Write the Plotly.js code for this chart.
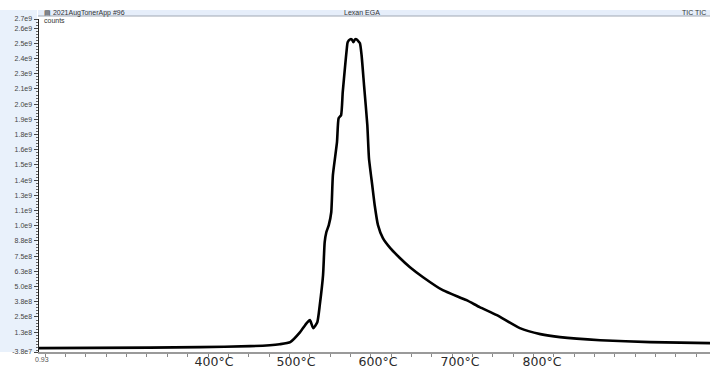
<!DOCTYPE html>
<html>
<head>
<meta charset="utf-8">
<script src="https://cdn.plot.ly/plotly-3.0.1.min.js"></script>
<style>html,body{margin:0;padding:0;background:#fff;}#chart{width:710px;height:369px;}</style>
</head>
<body>
<div id="chart"></div>
<script>
// Temperature (°C) and TIC counts
const temperatureC = [186.6, 322, 383, 444, 468, 480, 493, 505, 513, 517, 521, 526, 529, 533, 535, 537, 540, 543, 545, 550, 552, 555, 557, 560, 562, 563, 566, 568, 570, 572, 574, 576, 578, 580, 583, 587, 589, 593, 596, 600, 606, 615, 627, 639, 655, 679, 708, 724, 745, 773, 798, 822, 871, 932, 1005];
const counts = [-6e6, -2e6, 2e6, 1.0e7, 1.8e7, 2.6e7, 4.3e7, 1.25e8, 1.99e8, 2.24e8, 1.58e8, 2.07e8, 3.47e8, 5.94e8, 8.65e8, 9.47e8, 1.005e9, 1.111e9, 1.416e9, 1.687e9, 1.884e9, 1.909e9, 2.098e9, 2.320e9, 2.459e9, 2.509e9, 2.533e9, 2.533e9, 2.509e9, 2.533e9, 2.533e9, 2.517e9, 2.501e9, 2.402e9, 2.155e9, 1.827e9, 1.555e9, 1.333e9, 1.169e9, 1.005e9, 8.98e8, 8.16e8, 7.33e8, 6.59e8, 5.77e8, 4.70e8, 3.88e8, 3.31e8, 2.65e8, 1.58e8, 1.09e8, 8.4e7, 5.9e7, 4.3e7, 3.5e7];

const xTickVals = [400, 500, 600, 700, 800];
const xTickText = ["400°C", "500°C", "600°C", "700°C", "800°C"];
const yTickVals = [-3.8e7, 1.25e8, 2.5e8, 3.75e8, 5.0e8, 6.25e8, 7.5e8, 8.75e8, 1.0e9, 1.125e9, 1.25e9, 1.375e9, 1.5e9, 1.625e9, 1.75e9, 1.875e9, 2.0e9, 2.125e9, 2.25e9, 2.375e9, 2.5e9, 2.625e9, 2.7e9];
const yTickText = ["-3.8e7", "1.3e8", "2.5e8", "3.8e8", "5.0e8", "6.3e8", "7.5e8", "8.8e8", "1.0e9", "1.1e9", "1.3e9", "1.4e9", "1.5e9", "1.6e9", "1.8e9", "1.9e9", "2.0e9", "2.1e9", "2.3e9", "2.4e9", "2.5e9", "2.6e9", "2.7e9"];

const titleLeft = "2021AugTonerApp #96";
const titleCenter = "Lexan EGA";
const titleRight = "TIC TIC";

const trace = {
  x: temperatureC, y: counts, type: 'scatter', mode: 'lines',
  line: {color: '#000', width: 2.6, shape: 'spline', smoothing: 0.5},
  hoverinfo: 'skip'
};

// pixel helpers (plot area: x 39..710, y 19..352)
const W = 710, H = 369, L = 39, T = 19, B = 17;
const pw = W - L, ph = H - T - B;
const px = p => (p - L) / pw;
const py = p => (H - B - p) / ph;

const layout = {
  width: W, height: H,
  margin: {l: L, r: 0, t: T, b: B, pad: 0},
  paper_bgcolor: '#fff', plot_bgcolor: '#fff',
  showlegend: false,
  font: {family: 'Liberation Sans, Arial, sans-serif', color: '#333'},
  xaxis: {
    range: [186.6, 1004.9], showgrid: false, zeroline: false,
    showline: true, linecolor: '#9a9a9a', linewidth: 1.5,
    tickvals: xTickVals, ticktext: xTickText, ticks: '',
    tickfont: {family: 'DejaVu Sans', size: 12.5, color: '#2a2a2a'},
    ticklabelstandoff: -3,
    minor: {ticks: 'outside', ticklen: 3, tickcolor: '#888', tick0: 219.1, dtick: 24.8, showgrid: false}
  },
  yaxis: {
    range: [-3.8e7, 2.7e9], showgrid: false, zeroline: false,
    showline: true, linecolor: '#222', linewidth: 1.5,
    tickvals: yTickVals, ticktext: yTickText,
    ticks: 'outside', ticklen: 4, tickcolor: '#444', tickwidth: 1,
    tickfont: {family: 'Liberation Sans, Arial', size: 7, color: '#444'},
    minor: {ticks: 'outside', ticklen: 2, tickcolor: '#666', dtick: 2.5e7, tick0: 0, showgrid: false}
  },
  shapes: [
    {type: 'rect', xref: 'paper', yref: 'paper', x0: px(0), x1: px(37), y0: py(352), y1: py(10), fillcolor: '#e9f1fb', line: {width: 0}, layer: 'below'},
    {type: 'rect', xref: 'paper', yref: 'paper', x0: px(38), x1: px(710), y0: py(16), y1: py(10), fillcolor: '#e6eefa', line: {width: 0}, layer: 'below'},
    {type: 'line', xref: 'paper', yref: 'paper', x0: px(38), x1: px(710), y0: py(16), y1: py(16), line: {color: '#a0a8b4', width: 1}}
  ],
  annotations: [
    {text: '▤ ' + titleLeft, xref: 'paper', yref: 'paper', x: px(42), y: py(13), xanchor: 'left', yanchor: 'middle', showarrow: false, font: {size: 7, color: '#333'}},
    {text: titleCenter, xref: 'paper', yref: 'paper', x: px(362), y: py(13), xanchor: 'center', yanchor: 'middle', showarrow: false, font: {size: 7, color: '#333'}},
    {text: titleRight, xref: 'paper', yref: 'paper', x: px(708), y: py(13), xanchor: 'right', yanchor: 'middle', showarrow: false, font: {size: 7, color: '#333'}},
    {text: 'counts', xref: 'paper', yref: 'paper', x: px(42), y: py(20), xanchor: 'left', yanchor: 'middle', showarrow: false, font: {size: 7, color: '#333'}},
    {text: '0.93', xref: 'paper', yref: 'paper', x: px(42), y: py(359), xanchor: 'center', yanchor: 'middle', showarrow: false, font: {size: 7, color: '#555'}}
  ]
};

Plotly.newPlot('chart', [trace], layout, {displayModeBar: false, staticPlot: true});
</script>
</body>
</html>
